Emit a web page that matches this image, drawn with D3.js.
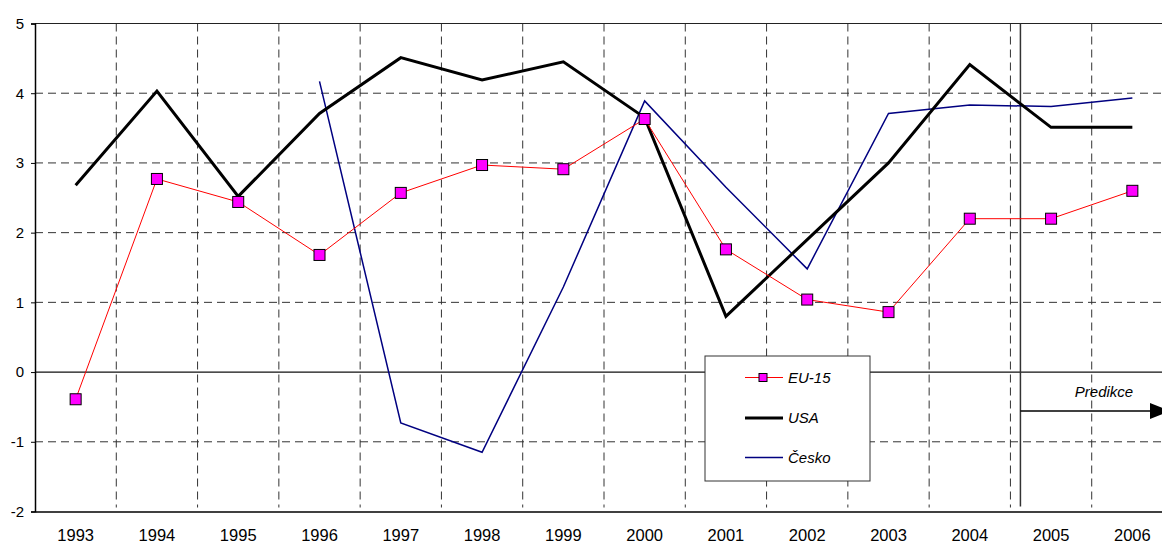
<!DOCTYPE html>
<html><head><meta charset="utf-8">
<script src="https://cdn.jsdelivr.net/npm/d3@7"></script>
<style>body{margin:0;background:#fff}svg{display:block}text{font-family:Arial,"Liberation Sans",sans-serif}</style>
</head><body>
<script>
const years = ["1993","1994","1995","1996","1997","1998","1999","2000","2001","2002","2003","2004","2005","2006"];
const eu15 = [-0.39,2.77,2.44,1.68,2.57,2.97,2.91,3.63,1.76,1.04,0.86,2.2,2.2,2.6];
const usa = [2.68,4.03,2.52,3.71,4.51,4.19,4.45,3.65,0.8,1.9,3.0,4.41,3.51,3.51];
const cesko = [null,null,null,4.17,-0.73,-1.15,1.22,3.89,2.65,1.48,3.71,3.83,3.81,3.93];
const yTicks = [-2,-1,0,1,2,3,4,5];
const seriesNames = ["EU-15","USA","Česko"];
const predictionLabel = "Predikce";
const predictionStart = "2005";

const W = 1162, H = 548;
const svg = d3.select("body").append("svg").attr("width", W).attr("height", H);
const mLeft = 35, mRight = 1173, mTop = 23.5, mBottom = 511.5;

const x = d3.scaleBand().domain(years).range([mLeft, mRight]).paddingInner(0).paddingOuter(0);
const bw = x.bandwidth();
const cx = d => x(d) + bw / 2;
const y = d3.scaleLinear().domain([-2, 5]).range([mBottom, mTop]);

// horizontal grid (dashed)
const g = svg.append("g");
g.selectAll("line.hg").data(yTicks.filter(v => v !== 0 && v !== -2 && v !== 5)).enter().append("line")
  .attr("x1", mLeft).attr("x2", W).attr("y1", d => y(d)).attr("y2", d => y(d))
  .attr("stroke", "#333").attr("stroke-width", 1).attr("stroke-dasharray", "8,5");
// vertical grid (dashed)
g.selectAll("line.vg").data(years.slice(1)).enter().append("line")
  .attr("x1", d => x(d)).attr("x2", d => x(d)).attr("y1", mTop).attr("y2", mBottom - 4)
  .attr("stroke", "#333").attr("stroke-width", 1).attr("stroke-dasharray", "8,5");

// top border
svg.append("line").attr("x1", mLeft).attr("x2", W).attr("y1", y(5)).attr("y2", y(5)).attr("stroke", "#222").attr("stroke-width", 1.2);
// zero line
svg.append("line").attr("x1", mLeft).attr("x2", W).attr("y1", y(0)).attr("y2", y(0)).attr("stroke", "#111").attr("stroke-width", 1.2);

// y axis
const yAxis = svg.append("g").attr("transform", `translate(${mLeft},0)`)
  .call(d3.axisLeft(y).tickValues(yTicks).tickSize(4).tickPadding(7).tickFormat(d => String(d)));
yAxis.select(".domain").attr("stroke", "#000").attr("stroke-width", 1.5);
yAxis.selectAll(".tick line").attr("stroke", "#000");
yAxis.selectAll("text").attr("font-size", 15).attr("fill", "#000").attr("font-family", "Arial, 'Liberation Sans', sans-serif");

// x axis
const xAxis = svg.append("g").attr("transform", `translate(0,${mBottom})`)
  .call(d3.axisBottom(x).tickSize(0).tickPadding(18));
xAxis.select(".domain").attr("stroke", "#000").attr("stroke-width", 1.5);
xAxis.selectAll("text").attr("font-size", 16.5).attr("fill", "#000").attr("font-family", "Arial, 'Liberation Sans', sans-serif");

// prediction vertical line & arrow
const px = x(predictionStart) + 10;
svg.append("line").attr("x1", px).attr("x2", px).attr("y1", mTop).attr("y2", mBottom - 5).attr("stroke", "#333").attr("stroke-width", 1.5);
const ay = 411;
svg.append("line").attr("x1", px).attr("x2", 1152).attr("y1", ay).attr("y2", ay).attr("stroke", "#000").attr("stroke-width", 1.3);
svg.append("path").attr("d", `M1150,${ay-8} L1170,${ay} L1150,${ay+8} Z`).attr("fill", "#000");
svg.append("text").attr("x", 1104).attr("y", 397).attr("text-anchor", "middle").attr("font-size", 15).attr("font-style", "italic").text(predictionLabel);

const line = d3.line().defined(d => d[1] !== null).x(d => cx(d[0])).y(d => y(d[1]));
const zip = arr => years.map((yr, i) => [yr, arr[i]]);

svg.append("path").datum(zip(cesko)).attr("d", line).attr("fill", "none").attr("stroke", "#000080").attr("stroke-width", 1.5);
svg.append("path").datum(zip(usa)).attr("d", line).attr("fill", "none").attr("stroke", "#000").attr("stroke-width", 3).attr("stroke-linejoin", "miter");
svg.append("path").datum(zip(eu15)).attr("d", line).attr("fill", "none").attr("stroke", "#ff0000").attr("stroke-width", 1);
svg.selectAll("rect.m").data(zip(eu15)).enter().append("rect")
  .attr("x", d => cx(d[0]) - 5.5).attr("y", d => y(d[1]) - 5.5).attr("width", 11).attr("height", 11)
  .attr("fill", "#ff00ff").attr("stroke", "#000").attr("stroke-width", 1);

// legend
const lg = svg.append("g");
lg.append("rect").attr("x", 705).attr("y", 356).attr("width", 165).attr("height", 125).attr("fill", "#fff").attr("stroke", "#333").attr("stroke-width", 1);
const ly = [377.5, 418, 457.5];
const styles = [{c:"#ff0000", w:1}, {c:"#000", w:3}, {c:"#000080", w:1.5}];
seriesNames.forEach((n, i) => {
  lg.append("line").attr("x1", 745).attr("x2", 783).attr("y1", ly[i]).attr("y2", ly[i]).attr("stroke", styles[i].c).attr("stroke-width", styles[i].w);
  if (i === 0) lg.append("rect").attr("x", 759).attr("y", ly[i] - 4).attr("width", 8).attr("height", 8).attr("fill", "#ff00ff").attr("stroke", "#000");
  lg.append("text").attr("x", 788).attr("y", ly[i] + 5).attr("font-size", 15).attr("font-style", "italic").text(n);
});
</script>
</body></html>
